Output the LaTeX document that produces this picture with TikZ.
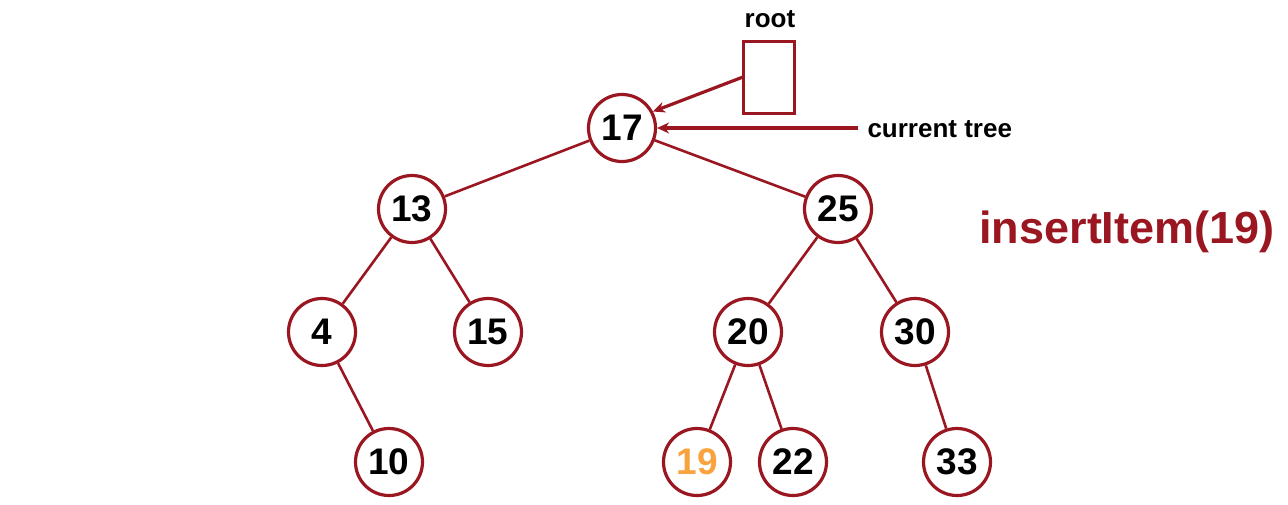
\documentclass[tikz,border=0pt]{standalone}
\usepackage{fontspec}
\setmainfont{Liberation Sans}
\usetikzlibrary{arrows.meta}
\definecolor{dred}{HTML}{9A1620}
\definecolor{orng}{HTML}{F9A33F}
\begin{document}
\begin{tikzpicture}[x=1pt,y=-1pt,
  tn/.style={circle,draw=dred,line width=3.2pt,minimum size=67pt,inner sep=0pt,fill=white,
    font=\fontsize{37}{37}\selectfont\bfseries},
  edge/.style={draw=dred,line width=2.6pt},
  ptr/.style={draw=dred,line width=3.2pt,-{Stealth[length=12pt,width=11pt]}},
  lbl/.style={font=\fontsize{26}{26}\selectfont\bfseries}]
\useasboundingbox (0,0) rectangle (1288,504);
\node[tn] (n17) at (622,128) {17};
\node[tn] (n13) at (412,209) {13};
\node[tn] (n25) at (838,209) {25};
\node[tn] (n4) at (322,332) {4};
\node[tn] (n15) at (488,332) {15};
\node[tn] (n20) at (748,332) {20};
\node[tn] (n30) at (915,332) {30};
\node[tn] (n10) at (389,462) {10};
\node[tn,text=orng] (n19) at (697,462) {19};
\node[tn] (n22) at (793,462) {22};
\node[tn] (n33) at (957,462) {33};
\draw[edge] (n17) -- (n13);
\draw[edge] (n17) -- (n25);
\draw[edge] (n13) -- (n4);
\draw[edge] (n13) -- (n15);
\draw[edge] (n25) -- (n20);
\draw[edge] (n25) -- (n30);
\draw[edge] (n4) -- (n10);
\draw[edge] (n20) -- (n19);
\draw[edge] (n20) -- (n22);
\draw[edge] (n30) -- (n33);
\node[draw=dred,line width=3pt,minimum width=51pt,minimum height=72pt,inner sep=0pt] (root) at (768.5,77) {};
\node[lbl,anchor=south] (rootl) at (770,31) {root};
\coordinate (rs) at (743,77);
\draw[ptr] (rs) -- (n17.28);
\node[lbl,anchor=west] (cur) at (864,129) {current tree};
\coordinate (cs) at (858,128);
\draw[ptr] (cs) -- (n17.east);
\node[font=\fontsize{45}{45}\selectfont\bfseries,text=dred] (ins) at (1127,232) {insertItem(19)};
\end{tikzpicture}
\end{document}
